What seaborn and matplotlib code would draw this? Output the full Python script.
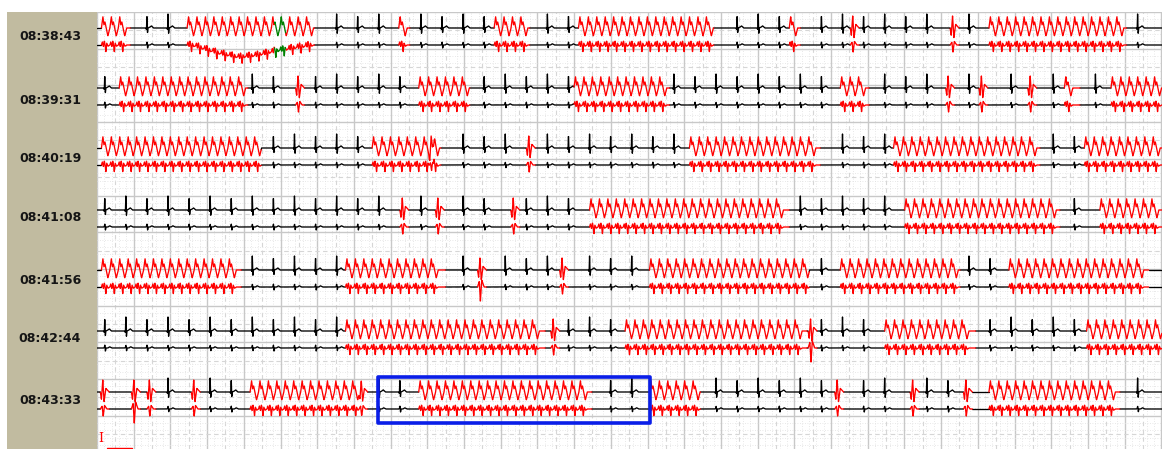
import numpy as np
import pandas as pd
import matplotlib
matplotlib.use("Agg")
import matplotlib.pyplot as plt
import seaborn as sns
from matplotlib.patches import Rectangle

# ---------------- data ----------------
row_times = ["08:38:43", "08:39:31", "08:40:19", "08:41:08", "08:41:56", "08:42:44", "08:43:33"]

# runs of ventricular tachycardia (red), seconds from start of each 48 s strip
vt_runs = [
    [(0.2, 1.5), (4.06, 9.8), (13.6, 14.1), (17.9, 19.5), (21.7, 27.8), (31.2, 31.7), (40.2, 46.4)],
    [(1.0, 6.8), (14.5, 16.8), (21.5, 25.8), (33.5, 34.8), (43.6, 44.3), (45.7, 48.0)],
    [(0.2, 7.4), (12.4, 15.5), (26.7, 32.6), (35.9, 42.5), (44.5, 48.0)],
    [(22.2, 31.2), (36.4, 43.4), (45.2, 48.0)],
    [(0.2, 6.5), (11.2, 15.7), (24.9, 32.1), (33.5, 38.9), (41.1, 47.4)],
    [(11.2, 20.2), (23.8, 32.0), (35.5, 39.6), (44.6, 48.0)],
    [(6.9, 11.9), (14.5, 22.3), (24.9, 27.2), (40.2, 46.1)],
]
# isolated ectopic beats (red)
pvc_times = [
    [34.0, 38.5],
    [9.0, 38.3, 39.8, 42.0],
    [15.0, 19.4],
    [13.7, 15.3, 18.7],
    [17.2, 20.9],
    [20.5, 32.1],
    [0.2, 1.6, 2.3, 4.3, 11.85, 33.3, 36.7, 39.1],
]
# ectopic beats with a deep deflection in the lower channel
pvc_deep = [[], [], [], [], [17.2], [32.1], [1.6]]
# green-marked stretch (row index, start, end)
green_runs = [(0, 8.0, 8.5)]
# baseline wander of lower channel, first strip (seconds, pixels; negative = down)
wander_t = [4.3, 5.5, 6.4, 7.2, 8.0, 9.6]
wander_a = [0.0, -8.0, -12.0, -10.0, -6.0, 0.0]

RR_SINUS = 0.95   # s
RR_VT = 0.38      # s
STRIP_S = 48.0

# ---------------- layout / style ----------------
W, H = 1162, 449
CHART_X0, CHART_TOP = 97, 12
CHART_W, CHART_H = W - CHART_X0, H - CHART_TOP
PX_PER_S = CHART_W / STRIP_S
upper_base = [28, 88, 148, 210, 270, 331, 392]
lower_gap = 17
label_y = [37, 101, 159, 217, 280, 339, 400]

# beat templates (time offset s, amplitude px, up positive)
N_UP = (np.array([-0.06, -0.02, 0, 0.025, 0.05, 0.12, 0.2, 0.3]),
        np.array([0, -0.1, 1, -0.4, 0, 0.05, 0.15, 0]) * 14)
N_LO = (np.array([-0.05, -0.02, 0.005, 0.03, 0.06, 0.14, 0.22, 0.32]),
        np.array([0, 0.1, 0.5, -0.5, 0, 0, 0.2, 0]) * 6)
V_UP = (np.array([0, 0.065, 0.11, 0.16, 0.29, 0.38]),
        np.array([0, 1.15, 0.3, 0.6, -0.8, 0]) * 10)
V_LO = (np.array([0, 0.04, 0.09, 0.13, 0.17, 0.2, 0.24, 0.3, 0.38]),
        np.array([0, 0.5, -0.3, 0.7, -0.1, -1.1, 0.3, -0.2, 0]) * 6)
P_UP = (np.array([-0.05, 0, 0.06, 0.12, 0.2, 0.35]),
        np.array([0, -0.6, 1.0, -0.8, 0.3, 0]) * 12)
P_LO = (np.array([-0.05, 0.03, 0.08, 0.14, 0.25]),
        np.array([0, 0.4, -1.0, 0.5, 0]) * 7)

FS = 150
t = np.arange(0, STRIP_S, 1 / FS)


def add(sig, bt, tmpl):
    tt, aa = tmpl
    m = (t >= bt + tt[0]) & (t <= bt + tt[-1])
    sig[m] += np.interp(t[m] - bt, tt, aa)


frames = []
unit = 0
for r in range(7):
    up = np.zeros_like(t)
    lo = np.zeros_like(t)
    kind = np.zeros(t.shape, dtype=int)
    busy = []
    for (a, b) in vt_runs[r]:
        kind[(t >= a) & (t < b)] = 1
        for bt in np.arange(a, b - RR_VT * 0.9, RR_VT):
            add(up, bt, V_UP)
            add(lo, bt, V_LO)
        busy.append((a - 0.25, b + 0.1))
    for p in pvc_times[r]:
        kind[(t >= p - 0.05) & (t < p + 0.35)] = 1
        add(up, p, P_UP)
        deep = 2.0 if p in pvc_deep[r] else 1.0
        add(lo, p, (P_LO[0], P_LO[1] * deep))
        busy.append((p - 0.4, p + 0.45))
    for (rr, a, b) in green_runs:
        if rr == r:
            kind[(t >= a) & (t < b)] = 2
    # sinus beats in the free time
    for bt in np.arange(0.35, STRIP_S - 0.2, RR_SINUS):
        if any(lo_ <= bt <= hi_ for lo_, hi_ in busy):
            continue
        add(up, bt, N_UP)
        add(lo, bt, N_LO)
    if r == 0:
        lo += np.interp(t, wander_t, wander_a)

    names = np.array(["N", "V", "G"])
    change = np.flatnonzero(kind[1:] != kind[:-1]) + 1
    starts = np.r_[0, change]
    ends = np.r_[change, len(t)]
    for base, sig in ((upper_base[r], up), (upper_base[r] + lower_gap, lo)):
        y = (base - CHART_TOP) - sig
        x = t * PX_PER_S
        for s, e in zip(starts, ends):
            e2 = min(e + 1, len(t))
            frames.append(pd.DataFrame({"x": x[s:e2], "y": y[s:e2],
                                        "kind": names[kind[s]], "unit": unit}))
            unit += 1

df = pd.concat(frames, ignore_index=True)

# ---------------- figure ----------------
sns.set_style("white")
plt.rcParams["font.family"] = ["DejaVu Sans"]
fig = plt.figure(figsize=(W / 100, H / 100), dpi=100)
fig.patch.set_facecolor("white")

# left time panel
fig.add_artist(Rectangle((7 / W, 0), (CHART_X0 - 7) / W, CHART_H / H,
                         transform=fig.transFigure, facecolor="#c1bba0",
                         edgecolor="none"))
for lab, ly in zip(row_times, label_y):
    fig.text(50 / W, 1 - ly / H, lab, ha="center", va="center",
             fontsize=9, fontweight="bold", color="#151515")

ax = fig.add_axes([CHART_X0 / W, 0, CHART_W / W, CHART_H / H])

# grid
MAJ = 36.7
for k in range(0, 30):
    ax.axvline(k * MAJ, color="#c8c8c8", lw=1.0, zorder=0)
    ax.axvline((k + 0.5) * MAJ, color="#d6d6d6", lw=0.8, ls=(0, (4, 3)), zorder=0)
for k in range(0, 150):
    if k % 5:
        ax.axvline(k * MAJ / 5, color="#e0e0e0", lw=0.6, ls=(0, (1, 2)), zorder=0)
for k in range(0, 13):
    ax.axhline(k * MAJ, color="#c8c8c8", lw=1.0, zorder=0)
    ax.axhline((k + 0.5) * MAJ, color="#d6d6d6", lw=0.8, ls=(0, (4, 3)), zorder=0)
for k in range(0, 62):
    if k % 5:
        ax.axhline(k * MAJ / 5, color="#e0e0e0", lw=0.6, ls=(0, (1, 2)), zorder=0)

sns.lineplot(data=df, x="x", y="y", hue="kind", units="unit", estimator=None,
             sort=False, legend=False, lw=0.95, ax=ax,
             palette={"N": "black", "V": "#ff0000", "G": "#008000"}, zorder=2)

# highlighted episode box
bx0, bx1 = 378 - CHART_X0, 650 - CHART_X0
by0, by1 = 377 - CHART_TOP, 423 - CHART_TOP
ax.add_patch(Rectangle((bx0, by0), bx1 - bx0, by1 - by0, fill=False,
                       edgecolor="#0a1ee8", lw=2.6, joinstyle="round", zorder=4))

# calibration marks
ax.text(101 - CHART_X0, 438 - CHART_TOP, "I", color="#ff0000", ha="center",
        va="center", fontsize=9, family="DejaVu Serif")
ax.plot([107 - CHART_X0, 132 - CHART_X0], [448 - CHART_TOP] * 2, color="#ff0000", lw=1)

ax.set_xlim(0, CHART_W)
ax.set_ylim(CHART_H, 0)
ax.set_axis_off()

fig.savefig("out.png", dpi=100, facecolor="white")
